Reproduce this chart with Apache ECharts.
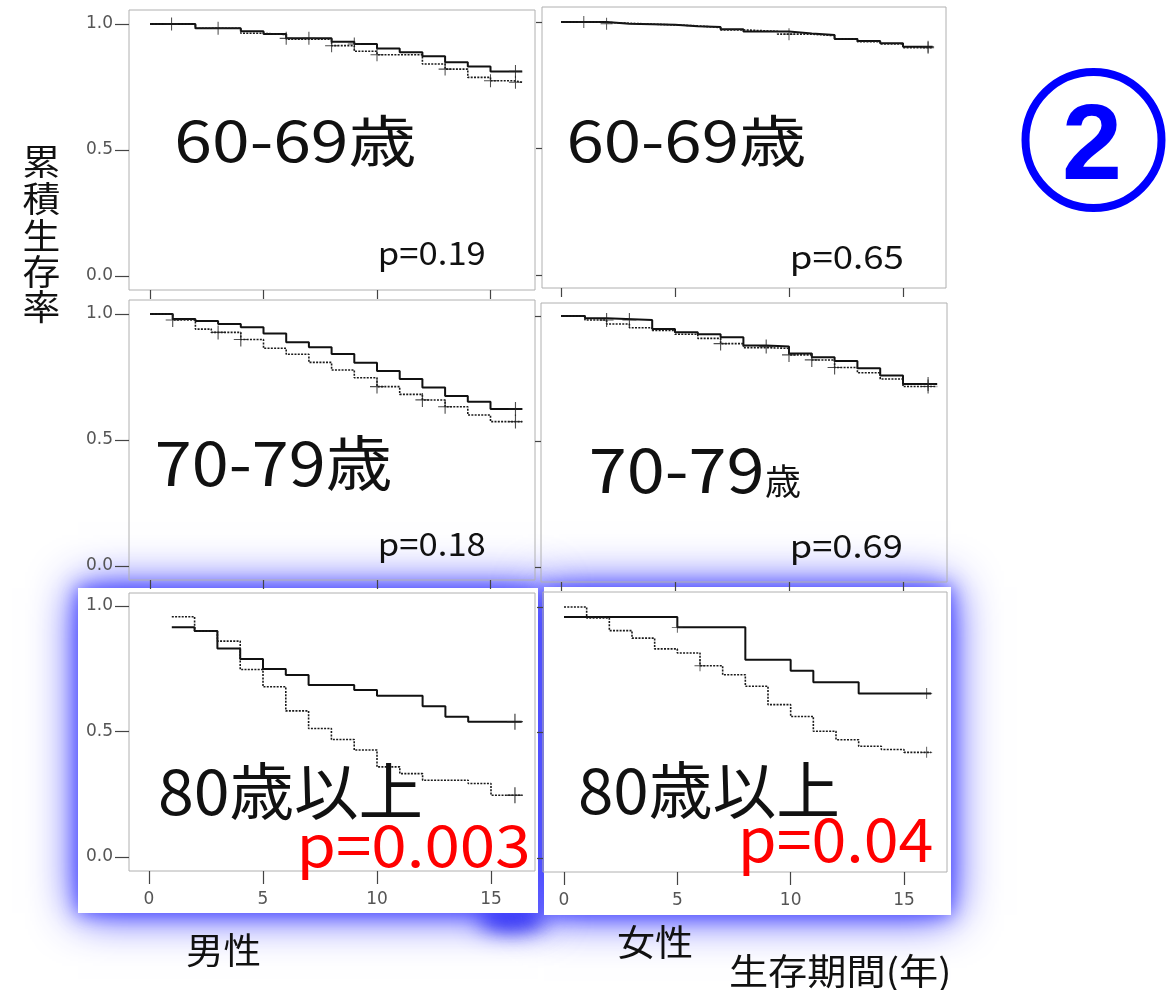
<!DOCTYPE html>
<html><head><meta charset="utf-8">
<script src="https://cdn.jsdelivr.net/npm/echarts@6.0.0/dist/echarts.min.js"></script>
<style>html,body{margin:0;padding:0;background:#fff;}#c{width:1176px;height:990px;}</style>
</head><body><div id="c"></div>
<script>
// ================= DATA =================
const xTicks = [0, 5, 10, 15];
const yTicks = [0, 0.5, 1.0];
const panelTitles = ['60-69歳', '60-69歳', '70-79歳', '70-79', '80歳以上', '80歳以上'];
const smallSuffix = '歳';
const pValues = ['p=0.19', 'p=0.65', 'p=0.18', 'p=0.69', 'p=0.003', 'p=0.04'];
const sexLabels = ['男性', '女性'];
const yAxisTitle = '累積生存率';
const xAxisTitle = '生存期間(年)';
const badge = '2';

// 男性 60-69歳 (solid / dotted)
const m60SolidT = [0, 2, 4, 5, 6, 8, 9, 10, 11, 12, 13, 14, 15, 16.4];
const m60SolidS = [1.0, 0.983, 0.971, 0.960, 0.943, 0.930, 0.921, 0.903, 0.888, 0.872, 0.848, 0.831, 0.812, 0.812];
const m60SolidC = [0.95, 3.0, 6.0, 7.0, 9.0, 16.1];
const m60DotT = [0, 2, 4, 5, 6, 8, 9, 10, 12, 13, 14, 15, 16, 16.4];
const m60DotS = [1.0, 0.983, 0.963, 0.958, 0.940, 0.914, 0.892, 0.878, 0.841, 0.821, 0.788, 0.775, 0.769, 0.769];
const m60DotC = [8.0, 10.0, 13.0, 15.0, 16.1];

// 女性 60-69歳
const f60SolidT = [0, 2, 3, 5, 6, 7, 8, 10, 11, 12, 13, 14, 15, 16.3];
const f60SolidS = [1.0, 0.993, 0.989, 0.983, 0.980, 0.971, 0.962, 0.955, 0.949, 0.933, 0.925, 0.916, 0.902, 0.902];
const f60SolidC = [1.0, 2.0, 16.1];
const f60DotT = [0, 1.5, 3, 4.5, 6, 7, 8, 9.5, 11, 12, 13, 14, 15, 16.3];
const f60DotS = [1.0, 0.995, 0.990, 0.985, 0.978, 0.969, 0.963, 0.952, 0.946, 0.934, 0.922, 0.913, 0.898, 0.898];
const f60DotC = [10.0, 16.1];

// 男性 70-79歳
const m70SolidT = [0, 1, 2, 3, 4, 5, 6, 7, 8, 9, 10, 11, 12, 13, 14, 15, 16.4];
const m70SolidS = [1.0, 0.980, 0.972, 0.960, 0.947, 0.923, 0.888, 0.868, 0.841, 0.807, 0.774, 0.742, 0.708, 0.675, 0.652, 0.623, 0.623];
const m70SolidC = [16.1];
const m70DotT = [0, 1, 2, 2.7, 4, 5, 6, 7, 8, 9, 10, 11, 12, 13, 14, 15, 16.4];
const m70DotS = [1.0, 0.976, 0.940, 0.927, 0.899, 0.864, 0.840, 0.808, 0.778, 0.747, 0.712, 0.681, 0.659, 0.632, 0.599, 0.573, 0.573];
const m70DotC = [1.0, 3.0, 4.0, 10.0, 12.0, 13.0, 16.1];

// 女性 70-79歳
const f70SolidT = [0, 1.05, 2, 4, 5, 6, 7, 8, 9, 10, 11, 12, 13, 14, 15, 16.5];
const f70SolidS = [1.0, 0.991, 0.984, 0.948, 0.935, 0.927, 0.915, 0.882, 0.878, 0.851, 0.836, 0.821, 0.792, 0.763, 0.729, 0.729];
const f70SolidC = [2.0, 3.0, 9.0, 16.1];
const f70DotT = [0, 1.05, 2, 3, 4, 5, 6, 7, 8, 9, 10, 11, 12, 13, 14, 15, 16.5];
const f70DotS = [1.0, 0.984, 0.968, 0.953, 0.942, 0.927, 0.911, 0.890, 0.874, 0.871, 0.845, 0.825, 0.795, 0.774, 0.749, 0.719, 0.719];
const f70DotC = [7.0, 10.0, 11.0, 12.0, 16.1];

// 男性 80歳以上
const m80SolidT = [1, 2, 3, 4, 5, 6, 7, 9, 10, 12, 13, 14, 16.35];
const m80SolidS = [0.915, 0.900, 0.831, 0.789, 0.749, 0.725, 0.685, 0.665, 0.642, 0.601, 0.559, 0.539, 0.539];
const m80SolidC = [16.05];
const m80DotT = [1, 2, 3, 4, 5, 6, 7, 8, 9, 10, 11, 12, 14, 15, 16.35];
const m80DotS = [0.957, 0.900, 0.860, 0.747, 0.678, 0.582, 0.512, 0.468, 0.426, 0.359, 0.332, 0.306, 0.293, 0.246, 0.246];
const m80DotC = [16.05];

// 女性 80歳以上
const f80SolidT = [0, 5, 8, 10, 11, 13, 16.2];
const f80SolidS = [0.960, 0.919, 0.790, 0.746, 0.700, 0.655, 0.655];
const f80SolidC = [5.0, 16.0];
const f80DotT = [0, 1, 2, 3, 4, 5, 6, 7, 8, 9, 10, 11, 12, 13, 14, 15, 16.2];
const f80DotS = [1.0, 0.956, 0.906, 0.876, 0.833, 0.817, 0.766, 0.730, 0.684, 0.611, 0.564, 0.505, 0.471, 0.445, 0.432, 0.421, 0.421];
const f80DotC = [6.0, 16.0];

// ================= LAYOUT =================
const panels = [
  {solid:[m60SolidT, m60SolidS, m60SolidC], dot:[m60DotT, m60DotS, m60DotC]},
  {solid:[f60SolidT, f60SolidS, f60SolidC], dot:[f60DotT, f60DotS, f60DotC]},
  {solid:[m70SolidT, m70SolidS, m70SolidC], dot:[m70DotT, m70DotS, m70DotC]},
  {solid:[f70SolidT, f70SolidS, f70SolidC], dot:[f70DotT, f70DotS, f70DotC]},
  {solid:[m80SolidT, m80SolidS, m80SolidC], dot:[m80DotT, m80DotS, m80DotC]},
  {solid:[f80SolidT, f80SolidS, f80SolidC], dot:[f80DotT, f80DotS, f80DotC]}
];
const geo = [
  {box:[129,10,535,290],  t0:150, t15:490.5, s1:24,  s0:276, xl:false, yl:true,  xt:9,  yt:14, cs:13},
  {box:[542,7,946,288],   t0:561, t15:903,   s1:22,  s0:275, xl:false, yl:false, xt:9,  yt:6,  cs:12},
  {box:[129,300,535,580], t0:150, t15:490.5, s1:314, s0:566, xl:false, yl:true,  xt:9,  yt:14, cs:14},
  {box:[541,303,947,582], t0:561, t15:903,   s1:316, s0:567, xl:false, yl:false, xt:9,  yt:6,  cs:14},
  {box:[129,593,535,871], t0:149, t15:491,   s1:606, s0:857, xl:true,  yl:true,  xt:13, yt:14, cs:16},
  {box:[543,592,947,872], t0:564, t15:904,   s1:607, s0:858, xl:true,  yl:false, xt:13, yt:6,  cs:11}
];

function stepAt(ts, ss, t) {
  let v = ss[0];
  for (let i = 0; i < ts.length; i++) if (ts[i] <= t + 1e-9) v = ss[i];
  return v;
}
const plusPath = 'path://M9.2,0H10.8V9.2H20V10.8H10.8V20H9.2V10.8H0V9.2H9.2Z';
const tickColor = '#444';
const labelColor = '#555';

const grids = [], xAxes = [], yAxes = [], series = [];
geo.forEach((g, i) => {
  const b = g.box;
  const pxT = (g.t15 - g.t0) / 15;
  const pxS = g.s0 - g.s1;
  grids.push({left:b[0], top:b[1], width:b[2]-b[0], height:b[3]-b[1], show:true,
    borderColor:'#b0b0b0', borderWidth:1, backgroundColor:'transparent', containLabel:false});
  xAxes.push({type:'value', gridIndex:i, min:(b[0]-g.t0)/pxT, max:(b[2]-g.t0)/pxT,
    axisLine:{show:false, onZero:false}, splitLine:{show:false},
    axisTick:{show:true, customValues:xTicks, length:g.xt, lineStyle:{color:tickColor, width:1.2}},
    axisLabel:{show:g.xl, customValues:xTicks, color:labelColor, fontSize:17, fontFamily:'DejaVu Sans', margin:20}});
  yAxes.push({type:'value', gridIndex:i, min:(g.s0-b[3])/pxS, max:(g.s0-b[1])/pxS,
    axisLine:{show:false, onZero:false}, splitLine:{show:false},
    axisTick:{show:true, customValues:yTicks, length:g.yt, lineStyle:{color:tickColor, width:1.2}},
    axisLabel:{show:g.yl, customValues:yTicks, color:labelColor, fontSize:17, fontFamily:'DejaVu Sans', margin:16,
      formatter:v => v.toFixed(1)}});
  const p = panels[i];
  [['solid', p.solid], ['dot', p.dot]].forEach(([kind, d]) => {
    const [ts, ss, cs] = d;
    series.push({type:'line', xAxisIndex:i, yAxisIndex:i, step:'end', showSymbol:false, symbol:'none',
      data: ts.map((t, k) => [t, ss[k]]), z:3,
      lineStyle: kind === 'solid' ? {color:'#111', width:2, type:'solid'} : {color:'#1a1a1a', width:1.6, type:[2, 1.3]}});
    series.push({type:'scatter', xAxisIndex:i, yAxisIndex:i, symbol:plusPath, symbolSize:g.cs, z:4,
      itemStyle:{color:'#222'}, data: cs.map(t => [t, stepAt(ts, ss, t)])});
  });
});

// ---- text helpers ----
const mctx = document.createElement('canvas').getContext('2d');
const JP = '"Noto Sans CJK JP"';
function ink(str, font) {
  mctx.font = font; mctx.textBaseline = 'middle';
  const m = mctx.measureText(str);
  return {l:m.actualBoundingBoxLeft, r:m.actualBoundingBoxRight, a:m.actualBoundingBoxAscent, d:m.actualBoundingBoxDescent};
}
function fitText(str, left, right, cy, size, color, vref, family, weight) {
  family = family || JP; weight = weight || 'normal';
  const font = weight + ' ' + size + 'px ' + family;
  const m = ink(str, font);
  const v = ink(vref || str, font);
  const sx = (right - left) / (m.l + m.r);
  return {type:'text', x:left + m.l * sx, y:cy - (v.d - v.a) / 2, scaleX:sx, z:100,
    style:{text:str, fontSize:size, fontFamily:family, fontWeight:weight, fill:color, align:'left', verticalAlign:'middle'}};
}
function centerText(str, cx, cy, size, color, sx) {
  const font = 'normal ' + size + 'px ' + JP;
  const v = ink(str, font);
  return {type:'text', x:cx, y:cy - (v.d - v.a) / 2, scaleX:sx, z:100,
    style:{text:str, fontSize:size, fontFamily:JP, fill:color, align:'center', verticalAlign:'middle'}};
}

const black = '#111', red = '#ff0000', blue = '#0000ff';
const glowL = {x:78, y:588, width:460, height:325};
const glowR = {x:544, y:587, width:407, height:328};
const OFF = 3000;
const graphics = [
  // soft blob under the bottom edge (shadow only, shape kept off-canvas)
  {type:'ellipse', shape:{cx:512 + OFF, cy:918, rx:34, ry:11}, z:-11,
    style:{fill:'#3333ff', shadowBlur:26, shadowOffsetX:-OFF, shadowColor:'rgba(50,50,240,1)'}},
  {type:'ellipse', shape:{cx:512 + OFF, cy:918, rx:30, ry:8}, z:-11,
    style:{fill:'#3333ff', shadowBlur:18, shadowOffsetX:-OFF, shadowColor:'rgba(60,60,240,0.9)'}},
  // highlight glows
  {type:'rect', shape:glowL, z:-10, style:{fill:'#fff', shadowBlur:44, shadowColor:'rgba(40,40,255,1)'}},
  {type:'rect', shape:glowR, z:-10, style:{fill:'#fff', shadowBlur:44, shadowColor:'rgba(40,40,255,1)'}},
  {type:'rect', shape:glowL, z:-10, style:{fill:'#fff', shadowBlur:18, shadowColor:'rgba(60,60,255,0.8)'}},
  {type:'rect', shape:glowR, z:-10, style:{fill:'#fff', shadowBlur:18, shadowColor:'rgba(60,60,255,0.8)'}},
  {type:'rect', shape:glowL, z:-9, style:{fill:'#fff'}},
  {type:'rect', shape:glowR, z:-9, style:{fill:'#fff'}},
  // panel titles
  fitText(panelTitles[0], 178, 415, 142, 56, black, '0'),
  fitText(panelTitles[1], 570, 805, 141.5, 56, black, '0'),
  fitText(panelTitles[2], 157, 390, 464, 60, black, '0'),
  fitText(panelTitles[3], 592, 762, 471, 62, black, '0'),
  fitText(smallSuffix, 766, 800, 481, 36, black),
  fitText(panelTitles[4], 160, 420, 793, 62, black, '0'),
  fitText(panelTitles[5], 580, 837, 791.5, 62, black, '0'),
  // p values
  fitText(pValues[0], 380, 485, 253.5, 32, black, '0'),
  fitText(pValues[1], 792, 903, 257.5, 32, black, '0'),
  fitText(pValues[2], 380, 485, 544.5, 32, black, '0'),
  fitText(pValues[3], 792, 902, 546, 32, black, '0'),
  fitText(pValues[4], 302, 527, 846, 58, red, '0'),
  fitText(pValues[5], 743, 932, 840.5, 60, red, '0'),
  // axis / group labels
  fitText(sexLabels[0], 187, 260, 950, 36, black),
  fitText(sexLabels[1], 618, 692, 942, 36, black),
  fitText(xAxisTitle, 730, 948, 972, 36, black),
  // badge
  {type:'circle', shape:{cx:1093.5, cy:140, r:68}, z:100, style:{fill:'transparent', stroke:blue, lineWidth:8}},
  fitText(badge, 1065, 1118, 141, 108, blue, null, '"Liberation Sans"', 'bold')
];
const yCenters = [162, 198, 234, 271, 307];
Array.from(yAxisTitle).forEach((ch, k) => graphics.push(centerText(ch, 41.5, yCenters[k], 35, black, 1.08)));

const chart = echarts.init(document.getElementById('c'), null, {renderer:'canvas'});
chart.setOption({
  backgroundColor:'#fff', animation:false,
  grid:grids, xAxis:xAxes, yAxis:yAxes, series:series,
  graphic:{elements:graphics}
});
</script></body></html>
